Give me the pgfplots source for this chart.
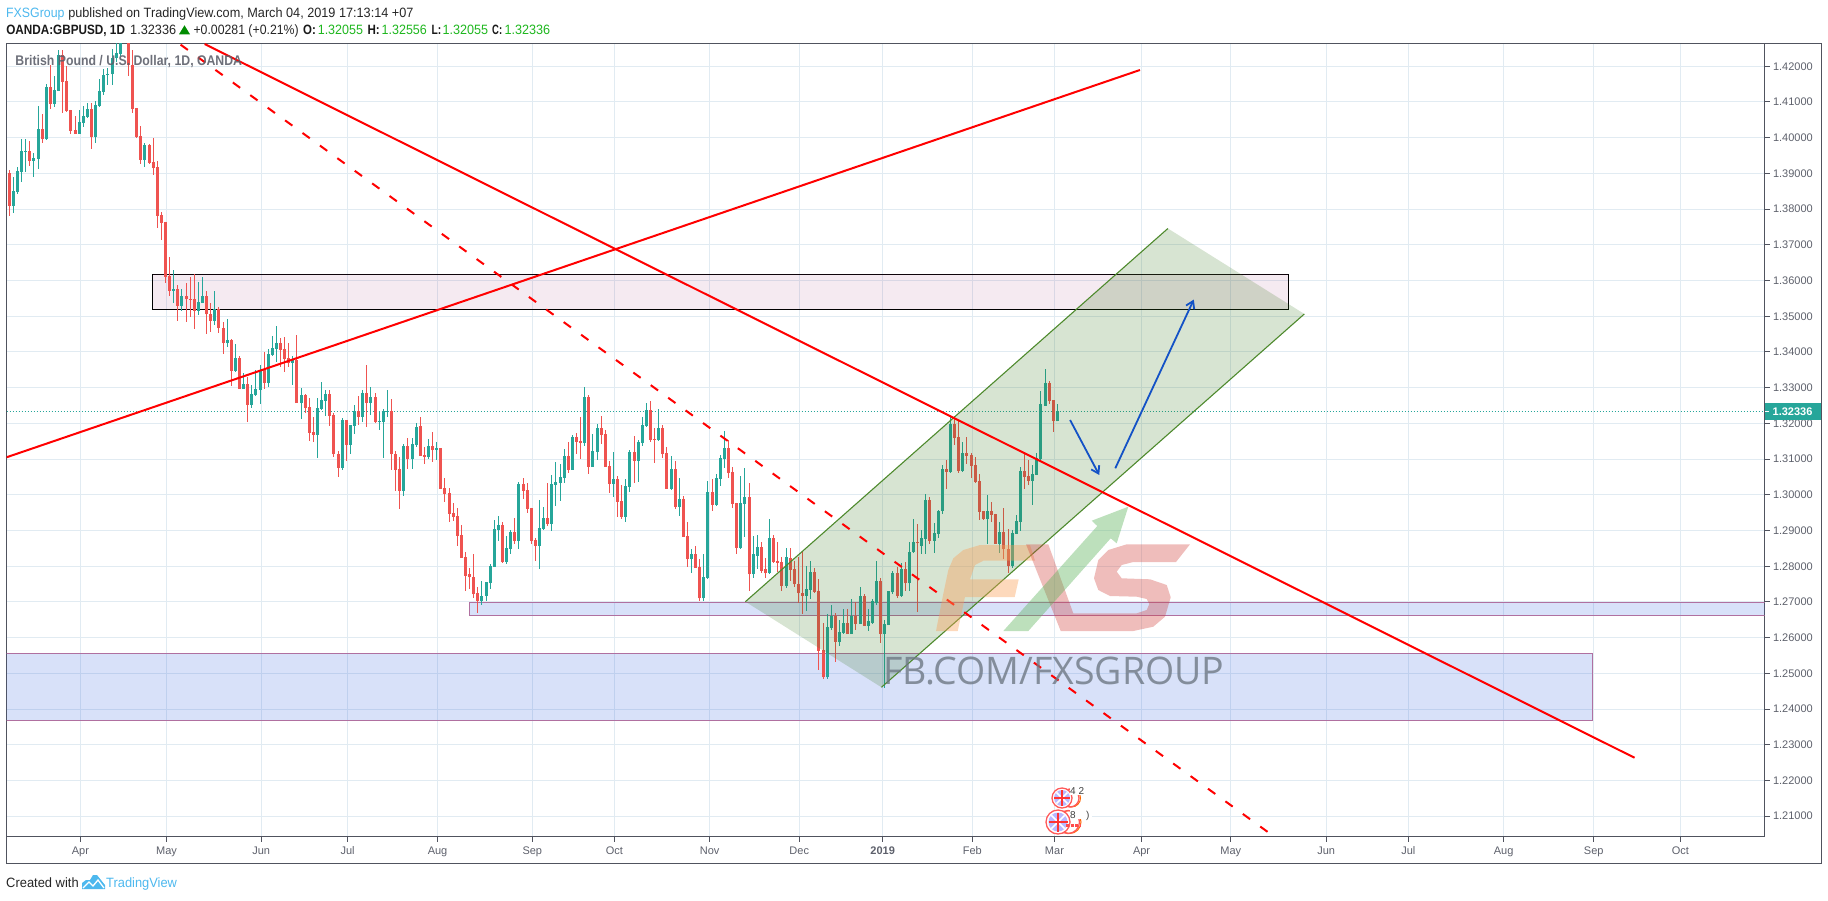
\documentclass[border=0pt]{standalone}
\usepackage{fontspec}
\usepackage{graphicx}
\usepackage{pgfplots}
\usepackage{pgfplotstable}
\pgfplotsset{compat=1.18}
\usetikzlibrary{arrows.meta}
\setmainfont{Liberation Sans}
\newfontfamily\wm{Open Sans}
\definecolor{tvgreen}{HTML}{26A69A}
\definecolor{tvred}{HTML}{EF5350}
\definecolor{tvgrid}{HTML}{E1EBF2}
\definecolor{tvaxis}{HTML}{50535E}
\definecolor{tvtext}{HTML}{5D606B}
\definecolor{tvblue}{HTML}{4DB8EE}
\definecolor{qgreen}{HTML}{1FB71F}
\definecolor{boxblue}{HTML}{3A68E0}
\definecolor{boxedge}{HTML}{B070A0}
\definecolor{boxpink}{HTML}{9B2D73}
\definecolor{chan}{HTML}{38761D}
\definecolor{chanedge}{HTML}{4E8A2D}
\definecolor{arrowblue}{HTML}{1352C6}
\newcommand{\fitw}[2]{\resizebox{#1pt}{\height}{#2}}
\pgfplotstableread{
k o h l c
1 1.3810 1.3891 1.3790 1.3851
2 1.3848 1.3918 1.3843 1.3907
3 1.3905 1.3996 1.3877 1.3963
4 1.3961 1.3996 1.3905 1.3964
6 1.3936 1.3956 1.3891 1.3943
7 1.3941 1.4089 1.3913 1.4024
9 1.3995 1.4149 1.3994 1.4142
11 1.4095 1.4173 1.4087 1.4133
12 1.4132 1.4246 1.4132 1.4232
17 1.4011 1.4078 1.4011 1.4044
18 1.4042 1.4089 1.4029 1.4061
19 1.4059 1.4096 1.4057 1.4080
21 1.4003 1.4104 1.3984 1.4092
22 1.4090 1.4164 1.4089 1.4131
23 1.4129 1.4191 1.4120 1.4176
24 1.4175 1.4194 1.4148 1.4178
25 1.4177 1.4247 1.4148 1.4222
26 1.4222 1.4278 1.4213 1.4236
27 1.4234 1.4288 1.4229 1.4283
28 1.4285 1.4330 1.4270 1.4310
33 1.3938 1.3986 1.3918 1.3979
40 1.3572 1.3630 1.3537 1.3576
42 1.3530 1.3576 1.3516 1.3557
46 1.3516 1.3597 1.3504 1.3540
47 1.3537 1.3610 1.3537 1.3557
50 1.3487 1.3572 1.3476 1.3520
53 1.3425 1.3491 1.3414 1.3433
55 1.3346 1.3422 1.3344 1.3383
57 1.3297 1.3342 1.3297 1.3310
59 1.3252 1.3307 1.3244 1.3282
60 1.3279 1.3349 1.3277 1.3296
61 1.3294 1.3363 1.3254 1.3349
63 1.3314 1.3409 1.3303 1.3394
64 1.3391 1.3444 1.3389 1.3410
65 1.3409 1.3472 1.3371 1.3424
69 1.3370 1.3388 1.3307 1.3377
71 1.3257 1.3299 1.3213 1.3279
75 1.3168 1.3271 1.3104 1.3243
76 1.3240 1.3316 1.3238 1.3265
77 1.3263 1.3294 1.3221 1.3282
81 1.3076 1.3215 1.3070 1.3210
83 1.3140 1.3196 1.3115 1.3196
84 1.3193 1.3252 1.3171 1.3235
86 1.3218 1.3294 1.3204 1.3285
88 1.3257 1.3302 1.3224 1.3274
90 1.3204 1.3232 1.3182 1.3207
91 1.3204 1.3240 1.3104 1.3235
92 1.3233 1.3294 1.3218 1.3235
96 1.3012 1.3143 1.2998 1.3137
98 1.3101 1.3160 1.3073 1.3143
99 1.3140 1.3201 1.3135 1.3190
102 1.3106 1.3156 1.3100 1.3136
104 1.3126 1.3148 1.3097 1.3130
115 1.2702 1.2760 1.2691 1.2718
116 1.2716 1.2757 1.2702 1.2755
117 1.2752 1.2805 1.2735 1.2802
118 1.2799 1.2930 1.2799 1.2905
119 1.2902 1.2941 1.2872 1.2916
121 1.2813 1.2886 1.2805 1.2852
122 1.2849 1.2902 1.2833 1.2897
124 1.2872 1.3036 1.2849 1.3030
129 1.2858 1.2986 1.2791 1.2908
130 1.2905 1.2966 1.2902 1.2936
132 1.2919 1.3056 1.2900 1.3030
133 1.3028 1.3092 1.2969 1.3036
134 1.3033 1.3086 1.2983 1.3050
135 1.3048 1.3128 1.3033 1.3108
137 1.3070 1.3167 1.3070 1.3161
140 1.3145 1.3301 1.3136 1.3273
142 1.3078 1.3170 1.3078 1.3123
143 1.3120 1.3198 1.3097 1.3187
147 1.3030 1.3120 1.2994 1.3044
150 1.2939 1.3044 1.2925 1.3025
151 1.3022 1.3125 1.3008 1.3120
153 1.3095 1.3153 1.3036 1.3148
154 1.3145 1.3217 1.3136 1.3195
155 1.3192 1.3256 1.3189 1.3237
158 1.3153 1.3240 1.3150 1.3187
161 1.3017 1.3108 1.3014 1.3072
163 1.2966 1.3048 1.2941 1.2989
166 1.2819 1.2847 1.2782 1.2833
169 1.2710 1.2835 1.2704 1.2771
170 1.2768 1.3039 1.2766 1.3008
172 1.2972 1.3059 1.2969 1.3048
173 1.3044 1.3111 1.3025 1.3103
174 1.3100 1.3178 1.3075 1.3131
178 1.2852 1.3053 1.2847 1.2978
179 1.2975 1.3075 1.2883 1.2995
181 1.2777 1.2886 1.2766 1.2833
182 1.2830 1.2888 1.2791 1.2855
185 1.2780 1.2933 1.2777 1.2880
189 1.2746 1.2852 1.2738 1.2827
194 1.2717 1.2800 1.2675 1.2735
195 1.2733 1.2816 1.2709 1.2785
199 1.2489 1.2666 1.2483 1.2629
200 1.2627 1.2691 1.2622 1.2660
202 1.2589 1.2650 1.2577 1.2617
203 1.2614 1.2681 1.2613 1.2642
205 1.2610 1.2709 1.2610 1.2660
207 1.2638 1.2741 1.2638 1.2716
209 1.2632 1.2680 1.2618 1.2646
210 1.2642 1.2707 1.2638 1.2702
211 1.2696 1.2816 1.2691 1.2760
213 1.2610 1.2649 1.2459 1.2638
214 1.2635 1.2732 1.2635 1.2730
215 1.2727 1.2788 1.2721 1.2780
217 1.2716 1.2808 1.2713 1.2791
219 1.2752 1.2869 1.2730 1.2841
220 1.2839 1.2933 1.2836 1.2869
222 1.2858 1.2902 1.2833 1.2880
223 1.2877 1.3003 1.2833 1.2986
225 1.2872 1.2921 1.2836 1.2894
226 1.2891 1.2958 1.2880 1.2955
227 1.2956 1.3084 1.2947 1.3072
229 1.3063 1.3219 1.3061 1.3198
232 1.3067 1.3147 1.3063 1.3117
238 1.2933 1.3000 1.2861 1.2955
241 1.2863 1.2924 1.2838 1.2897
244 1.2802 1.2902 1.2794 1.2894
245 1.2891 1.2944 1.2891 1.2927
246 1.2925 1.3077 1.2900 1.3067
249 1.3039 1.3084 1.2972 1.3058
250 1.3056 1.3117 1.3056 1.3103
251 1.3100 1.3290 1.3097 1.3253
252 1.3250 1.3351 1.3250 1.3312
255 1.32055 1.32556 1.32055 1.32336
}\upcandles
\pgfplotstableread{
k o h l c
0 1.3900 1.3910 1.3782 1.3810
5 1.3963 1.3991 1.3922 1.3936
8 1.4024 1.4066 1.3984 1.3995
10 1.4142 1.4204 1.4080 1.4095
13 1.4232 1.4246 1.4068 1.4157
14 1.4159 1.4201 1.4073 1.4075
15 1.4078 1.4078 1.4011 1.4020
16 1.4022 1.4061 1.4011 1.4011
20 1.4080 1.4096 1.3967 1.4003
29 1.4300 1.4320 1.4173 1.4204
30 1.4204 1.4246 1.4070 1.4080
31 1.4082 1.4082 1.4000 1.4002
32 1.4004 1.4033 1.3926 1.3938
34 1.3979 1.3982 1.3926 1.3930
35 1.3932 1.3998 1.3896 1.3915
36 1.3918 1.3935 1.3748 1.3782
37 1.3784 1.3792 1.3714 1.3762
38 1.3764 1.3765 1.3592 1.3611
39 1.3613 1.3666 1.3558 1.3572
41 1.3576 1.3588 1.3487 1.3530
43 1.3557 1.3593 1.3484 1.3547
44 1.3549 1.3609 1.3499 1.3547
45 1.3549 1.3617 1.3464 1.3516
48 1.3557 1.3572 1.3451 1.3505
49 1.3507 1.3537 1.3457 1.3487
51 1.3520 1.3527 1.3454 1.3468
52 1.3468 1.3483 1.3394 1.3425
54 1.3433 1.3435 1.3305 1.3346
56 1.3383 1.3388 1.3297 1.3297
58 1.3310 1.3331 1.3204 1.3252
62 1.3351 1.3399 1.3297 1.3314
66 1.3424 1.3438 1.3357 1.3405
67 1.3408 1.3441 1.3344 1.3380
68 1.3382 1.3424 1.3357 1.3368
70 1.3377 1.3447 1.3257 1.3257
72 1.3279 1.3282 1.3228 1.3243
73 1.3245 1.3271 1.3151 1.3174
74 1.3176 1.3218 1.3148 1.3168
78 1.3282 1.3294 1.3193 1.3221
79 1.3224 1.3229 1.3107 1.3113
80 1.3115 1.3123 1.3051 1.3076
82 1.3210 1.3210 1.3096 1.3140
85 1.3235 1.3277 1.3196 1.3218
87 1.3285 1.3363 1.3190 1.3257
89 1.3274 1.3285 1.3201 1.3204
93 1.3234 1.3268 1.3070 1.3113
94 1.3115 1.3123 1.3012 1.3070
95 1.3073 1.3107 1.2959 1.3012
97 1.3137 1.3160 1.3073 1.3101
100 1.3192 1.3217 1.3108 1.3108
101 1.3111 1.3134 1.3086 1.3106
103 1.3136 1.3175 1.3092 1.3125
105 1.3131 1.3131 1.3017 1.3017
106 1.3020 1.3048 1.2980 1.3003
107 1.3005 1.3020 1.2925 1.2947
108 1.2950 1.2978 1.2928 1.2939
109 1.2941 1.2964 1.2858 1.2886
110 1.2888 1.2916 1.2824 1.2824
111 1.2827 1.2841 1.2730 1.2774
112 1.2777 1.2796 1.2735 1.2769
113 1.2771 1.2833 1.2710 1.2721
114 1.2724 1.2741 1.2668 1.2702
120 1.2916 1.2925 1.2810 1.2813
123 1.2897 1.2936 1.2861 1.2872
125 1.3030 1.3048 1.2989 1.3011
126 1.3014 1.3033 1.2950 1.2961
127 1.2964 1.2964 1.2861 1.2872
128 1.2874 1.2880 1.2816 1.2858
131 1.2936 1.3033 1.2913 1.2919
136 1.3108 1.3148 1.3061 1.3070
138 1.3161 1.3173 1.3114 1.3148
139 1.3150 1.3217 1.3100 1.3145
141 1.3273 1.3279 1.3058 1.3078
144 1.3187 1.3220 1.3142 1.3167
145 1.3170 1.3181 1.3078 1.3078
146 1.3081 1.3095 1.3005 1.3030
148 1.3044 1.3053 1.2939 1.2980
149 1.2983 1.3028 1.2933 1.2939
152 1.3120 1.3165 1.3033 1.3095
156 1.3237 1.3262 1.3148 1.3153
157 1.3156 1.3187 1.3089 1.3153
159 1.3187 1.3195 1.3103 1.3114
160 1.3117 1.3134 1.3017 1.3017
162 1.3072 1.3095 1.2961 1.2966
164 1.2989 1.2997 1.2883 1.2883
165 1.2886 1.2925 1.2799 1.2819
167 1.2833 1.2858 1.2796 1.2796
168 1.2799 1.2819 1.2702 1.2710
171 1.3008 1.3044 1.2955 1.2972
175 1.3131 1.3153 1.3048 1.3061
176 1.3064 1.3078 1.2964 1.2975
177 1.2978 1.2978 1.2833 1.2852
180 1.2995 1.3033 1.2730 1.2777
183 1.2855 1.2869 1.2782 1.2788
184 1.2791 1.2824 1.2768 1.2780
186 1.2880 1.2888 1.2810 1.2813
187 1.2816 1.2869 1.2785 1.2810
188 1.2813 1.2827 1.2730 1.2746
190 1.2824 1.2851 1.2759 1.2789
191 1.2791 1.2814 1.2743 1.2749
192 1.2751 1.2826 1.2698 1.2724
193 1.2726 1.2844 1.2666 1.2717
196 1.2785 1.2796 1.2726 1.2728
197 1.2730 1.2763 1.2510 1.2563
198 1.2565 1.2642 1.2484 1.2489
201 1.2660 1.2670 1.2533 1.2589
204 1.2642 1.2681 1.2610 1.2610
206 1.2660 1.2701 1.2621 1.2638
208 1.2716 1.2721 1.2633 1.2633
212 1.2760 1.2768 1.2585 1.2610
216 1.2780 1.2799 1.2710 1.2716
218 1.2791 1.2812 1.2730 1.2752
221 1.2869 1.2919 1.2671 1.2864
224 1.2986 1.2994 1.2861 1.2872
228 1.3072 1.3097 1.3017 1.3065
230 1.3198 1.3221 1.3139 1.3159
231 1.3161 1.3207 1.3061 1.3067
233 1.3117 1.3163 1.3086 1.3109
234 1.3111 1.3117 1.3047 1.3082
235 1.3083 1.3105 1.3033 1.3036
236 1.3039 1.3058 1.2930 1.2952
237 1.2955 1.2955 1.2930 1.2933
239 1.2955 1.2979 1.2924 1.2944
240 1.2947 1.2947 1.2861 1.2863
242 1.2897 1.2964 1.2821 1.2847
243 1.2849 1.2905 1.2780 1.2802
247 1.3067 1.3114 1.3017 1.3050
248 1.3053 1.3097 1.3028 1.3039
253 1.3312 1.3320 1.3254 1.3262
254 1.3265 1.3265 1.3175 1.3206
}\downcandles
\begin{document}
\begin{tikzpicture}[x=1pt,y=1pt]
\useasboundingbox (0,0) rectangle (1828,900);
\begin{axis}[
  at={(6.5pt,63.3pt)},anchor=south west,
  scale only axis,width=1758pt,height=793.2pt,
  xmin=-0.68,xmax=427.06,ymin=1.20426,ymax=1.42638,
  axis line style={color=tvaxis,line width=1pt},
  tick align=outside,major tick length=5pt,
  tick style={color=tvaxis,line width=1pt},
  xtick pos=bottom,ytick pos=right,yticklabel pos=right,
  grid=major,grid style={color=tvgrid,line width=1pt},
  xtick={17.3,38.25,61.3,82.3,104.2,127.25,147.25,170.4,192.2,212.5,234.3,254.3,275.5,297.2,320.4,340.4,363.6,385.5,406.6},
  xticklabels={Apr,May,Jun,Jul,Aug,Sep,Oct,Nov,Dec,\textbf{2019},Feb,Mar,Apr,May,Jun,Jul,Aug,Sep,Oct},
  ytick={1.21,1.22,1.23,1.24,1.25,1.26,1.27,1.28,1.29,1.30,1.31,1.32,1.33,1.34,1.35,1.36,1.37,1.38,1.39,1.40,1.41,1.42},
  tick label style={font=\fontsize{11}{13}\selectfont,color=tvtext},
  xticklabel style={yshift=-1pt,text height=8pt,text depth=2pt},
  yticklabel style={/pgf/number format/.cd,fixed,fixed zerofill,precision=5,assume math mode=true},
  clip=true,
]
% zones
\addplot[forget plot,draw=black,line width=1pt,fill=none] coordinates {(34.96,1.36175)(311.24,1.36175)(311.24,1.35195)(34.96,1.35195)(34.96,1.36175)};
\addplot[forget plot,draw=none,fill=boxpink,fill opacity=0.1] coordinates {(34.96,1.36175)(311.24,1.36175)(311.24,1.35195)(34.96,1.35195)} --cycle;
\addplot[forget plot,draw=boxedge,line width=1pt,fill=boxblue,fill opacity=0.2] coordinates {(112.0,1.2699)(427.5,1.2699)(427.5,1.26626)(112.0,1.26626)} --cycle;
\addplot[forget plot,draw=boxedge,line width=1pt,fill=boxblue,fill opacity=0.2] coordinates {(-1,1.25562)(385.2,1.25562)(385.2,1.23686)(-1,1.23686)} --cycle;
% last price
\addplot[forget plot,color=tvgreen,line width=1pt,dash pattern=on 1.5pt off 1.5pt] coordinates {(-0.68,1.32336)(427.06,1.32336)};
% candles: wicks, then bodies
\addplot[forget plot,draw=none,mark=none,error bars/.cd,y dir=both,y explicit,error mark=none,error bar style={draw=tvgreen,line width=1pt}]
  table[x=k,y=o,y error plus expr=\thisrow{h}-\thisrow{o},y error minus expr=\thisrow{o}-\thisrow{l}] {\upcandles};
\addplot[forget plot,draw=none,mark=none,error bars/.cd,y dir=both,y explicit,error mark=none,error bar style={draw=tvred,line width=1pt}]
  table[x=k,y=o,y error plus expr=\thisrow{h}-\thisrow{o},y error minus expr=\thisrow{o}-\thisrow{l}] {\downcandles};
\addplot[forget plot,draw=none,mark=none,error bars/.cd,y dir=plus,y explicit,error mark=none,error bar style={draw=tvgreen,line width=3pt}]
  table[x=k,y=o,y error plus expr=\thisrow{c}-\thisrow{o}] {\upcandles};
\addplot[forget plot,draw=none,mark=none,error bars/.cd,y dir=plus,y explicit,error mark=none,error bar style={draw=tvred,line width=3pt}]
  table[x=k,y=c,y error plus expr=\thisrow{o}-\thisrow{c}] {\downcandles};
% channel
\addplot[forget plot,draw=none,fill=chan,fill opacity=0.2] coordinates {(179.1,1.27007)(281.9,1.37458)(315.1,1.35064)(212.2,1.2461)} --cycle;
\addplot[forget plot,color=chanedge,line width=1.1pt] coordinates {(179.1,1.27007)(281.9,1.37458)};
\addplot[forget plot,color=chanedge,line width=1.1pt] coordinates {(212.2,1.2461)(315.1,1.35064)};
% trend lines
\addplot[forget plot,color=red,line width=2pt] coordinates {(-0.68,1.3105)(275.1,1.41896)};
\addplot[forget plot,color=red,line width=2pt] coordinates {(47.54,1.42624)(395.45,1.22636)};
\addplot[forget plot,color=red,line width=2pt,dash pattern=on 9pt off 12.5pt] coordinates {(41.68,1.42605)(307.54,1.20446)};
% forecast arrows
\addplot[forget plot,color=arrowblue,line width=1.8pt,-{Straight Barb[length=7pt,width=9pt]}] coordinates {(258.1,1.32095)(265.2,1.30555)};
\addplot[forget plot,color=arrowblue,line width=1.8pt,-{Straight Barb[length=7pt,width=9pt]}] coordinates {(269.1,1.30743)(288.2,1.35467)};
\end{axis}
\begin{axis}[
  at={(0pt,0pt)},anchor=south west,scale only axis,width=1828pt,height=900pt,
  xmin=0,xmax=1828,ymin=0,ymax=900,y dir=reverse,hide axis,clip=false,
]
% outer frame
\addplot[forget plot,color=tvaxis,line width=1pt] coordinates {(1764.5,43.5)(1821,43.5)(1821,863)(6.5,863)(6.5,836.7)};
% FXS watermark
\addplot[forget plot,draw=none,fill={rgb,255:red,250;green,160;blue,88},fill opacity=0.4] coordinates {(936,631)(942.7,596.7)(948.3,570)(953.3,558.3)(963.3,550)(980,545)(1030,545)(1035,560.7)(983.3,560.7)(975,565)(970,579.3)(1018.7,579.3)(1014.7,597)(965,597)(957.7,631)} --cycle;
\addplot[forget plot,draw=none,fill={rgb,255:red,209;green,66;blue,61},fill opacity=0.35] coordinates {(1026,544.3)(1048.3,544.3)(1073.3,613.3)(1136.7,613.3)(1146.7,610)(1149.3,604)(1146.7,599)(1136.7,596.7)(1110,596)(1098.3,590)(1094,578.3)(1098.3,560)(1108.3,550)(1126.7,544.3)(1190,544.3)(1176,562)(1133.3,562)(1121.7,565)(1116.7,571.7)(1121.7,578.3)(1150,579.3)(1166.7,585)(1170.7,597.3)(1165,616.7)(1153.3,626.7)(1133.3,631)(1060.7,631)} --cycle;
\addplot[forget plot,draw=none,fill={rgb,255:red,90;green,178;blue,87},fill opacity=0.4] coordinates {(1003.3,631)(1097.3,526)(1091.7,520.7)(1128.3,506.7)(1116.7,543.3)(1110.7,538.3)(1028.3,631)} --cycle;
\node[anchor=base west,inner sep=0pt,text={rgb,255:red,110;green,120;blue,132},opacity=0.8] at (axis cs:883,684) {\fitw{341}{\fontsize{38}{40}\wm FB.COM/FXSGROUP}};
% economic events
\fill[white] (axis cs:1070,798) circle[radius=9pt];
\draw[color=orange!80!red,line width=1pt] (axis cs:1071.5,798) circle[radius=9pt];
\draw[color=red!65!white,line width=1.3pt] (axis cs:1070,798) circle[radius=9pt];
\fill[white] (axis cs:1062,798) circle[radius=10pt];
\draw[color=red!65!white,line width=1.3pt] (axis cs:1062,798) circle[radius=10pt];
\fill[white] (axis cs:1068,822) circle[radius=11.5pt];
\draw[color=orange!80!red,line width=1pt] (axis cs:1069.5,822) circle[radius=11.5pt];
\draw[color=red!65!white,line width=1.3pt] (axis cs:1068,822) circle[radius=11.5pt];
\fill[white] (axis cs:1058,822) circle[radius=12pt];
\draw[color=red!65!white,line width=1.3pt] (axis cs:1058,822) circle[radius=12pt];
\fill[color=blue!55!white,opacity=.5] (axis cs:1062,798) circle[radius=8pt];
\draw[color=white,line width=1.5pt] (axis cs:1056.4,792.4) -- (axis cs:1067.6,803.6) (axis cs:1067.6,792.4) -- (axis cs:1056.4,803.6);
\draw[color=red!80!white,line width=1.3pt] (axis cs:1054,798) -- (axis cs:1070,798) (axis cs:1062,790) -- (axis cs:1062,806);
\fill[color=blue!55!white,opacity=.5] (axis cs:1058,822) circle[radius=9.5pt];
\draw[color=white,line width=1.5pt] (axis cs:1051.3,815.3) -- (axis cs:1064.7,828.7) (axis cs:1064.7,815.3) -- (axis cs:1051.3,828.7);
\draw[color=red!80!white,line width=1.3pt] (axis cs:1048.5,822) -- (axis cs:1067.5,822) (axis cs:1058,812.5) -- (axis cs:1058,831.5);
\draw[color=red!70!white,line width=3pt,dash pattern=on 3pt off 1.5pt] (axis cs:1066,825) -- (axis cs:1080,825);
\fill[white] (axis cs:1069.5,784) rectangle (axis cs:1085,795);
\fill[white] (axis cs:1069.5,808) rectangle (axis cs:1092,819);
\node[anchor=base west,inner sep=0pt,font=\fontsize{10}{12}\selectfont,text=black!75] at (axis cs:1070,794) {4 2};
\node[anchor=base west,inner sep=0pt,font=\fontsize{10}{12}\selectfont,text=black!75] at (axis cs:1070,818) {8};
\node[anchor=base west,inner sep=0pt,font=\fontsize{10}{12}\selectfont,text=black!75] at (axis cs:1086,818) {)};
% price label
\addplot[forget plot,draw=none,fill=tvgreen] coordinates {(1765,403)(1821,403)(1821,419.7)(1765,419.7)} --cycle;
\node[anchor=base,inner sep=0pt,font=\fontsize{11}{13}\selectfont\bfseries,text=white] at (axis cs:1792.5,415.6) {1.32336};
\addplot[forget plot,color=white,line width=1pt] coordinates {(1765,411.7)(1769,411.7)};
% header
\node[anchor=base west,inner sep=0pt,font=\fontsize{13.5}{15}\selectfont,text=tvblue] at (axis cs:6,17.5) {\fitw{58.3}{FXSGroup}};
\node[anchor=base west,inner sep=0pt,font=\fontsize{13.5}{15}\selectfont,text=black!85] at (axis cs:68.1,17.5) {\fitw{345.2}{published on TradingView.com, March 04, 2019 17:13:14 +07}};
\node[anchor=base west,inner sep=0pt,font=\fontsize{13.5}{15}\selectfont\bfseries,text=black!90] at (axis cs:6.1,34) {\fitw{118.7}{OANDA:GBPUSD, 1D}};
\node[anchor=base west,inner sep=0pt,font=\fontsize{13.5}{15}\selectfont,text=black!85] at (axis cs:130,34) {\fitw{46}{1.32336}};
\addplot[forget plot,draw=none,fill=green!55!black] coordinates {(179,34.3)(184.5,25.3)(190,34.3)} --cycle;
\node[anchor=base west,inner sep=0pt,font=\fontsize{13.5}{15}\selectfont,text=black!85] at (axis cs:193.3,34) {\fitw{105.2}{+0.00281 (+0.21\%)}};
\node[anchor=base west,inner sep=0pt,font=\fontsize{13.5}{15}\selectfont\bfseries,text=black!90] at (axis cs:303,34) {\fitw{12.7}{O:}};
\node[anchor=base west,inner sep=0pt,font=\fontsize{13.5}{15}\selectfont,text=qgreen] at (axis cs:317.6,34) {\fitw{45.2}{1.32055}};
\node[anchor=base west,inner sep=0pt,font=\fontsize{13.5}{15}\selectfont\bfseries,text=black!90] at (axis cs:367.4,34) {\fitw{12.2}{H:}};
\node[anchor=base west,inner sep=0pt,font=\fontsize{13.5}{15}\selectfont,text=qgreen] at (axis cs:381.5,34) {\fitw{45.2}{1.32556}};
\node[anchor=base west,inner sep=0pt,font=\fontsize{13.5}{15}\selectfont\bfseries,text=black!90] at (axis cs:431.3,34) {\fitw{9.7}{L:}};
\node[anchor=base west,inner sep=0pt,font=\fontsize{13.5}{15}\selectfont,text=qgreen] at (axis cs:442.4,34) {\fitw{45.6}{1.32055}};
\node[anchor=base west,inner sep=0pt,font=\fontsize{13.5}{15}\selectfont\bfseries,text=black!90] at (axis cs:492,34) {\fitw{10}{C:}};
\node[anchor=base west,inner sep=0pt,font=\fontsize{13.5}{15}\selectfont,text=qgreen] at (axis cs:504.4,34) {\fitw{45.6}{1.32336}};
\node[anchor=base west,inner sep=0pt,font=\fontsize{14}{16}\selectfont\bfseries,text=tvtext,opacity=.9] at (axis cs:15.3,65.3) {\fitw{226.6}{British Pound / U.S. Dollar, 1D, OANDA}};
% footer
\node[anchor=base west,inner sep=0pt,font=\fontsize{13.5}{15}\selectfont,text=black!85] at (axis cs:6,887) {\fitw{72.5}{Created with}};
\node[anchor=base west,inner sep=0pt,font=\fontsize{13.5}{15}\selectfont,text=tvblue] at (axis cs:106,887) {\fitw{70.8}{TradingView}};
\addplot[forget plot,draw=none,fill=tvblue] coordinates {(82,889)(82,883)(86,880)(90,880)(93,875)(97,875)(101,880)(105,885)(105,889)} --cycle;
\addplot[forget plot,color=white,line width=1.3pt] coordinates {(83,888)(89,882)(93,886)(98,880)(104,888)};
\end{axis}
\end{tikzpicture}
\end{document}
